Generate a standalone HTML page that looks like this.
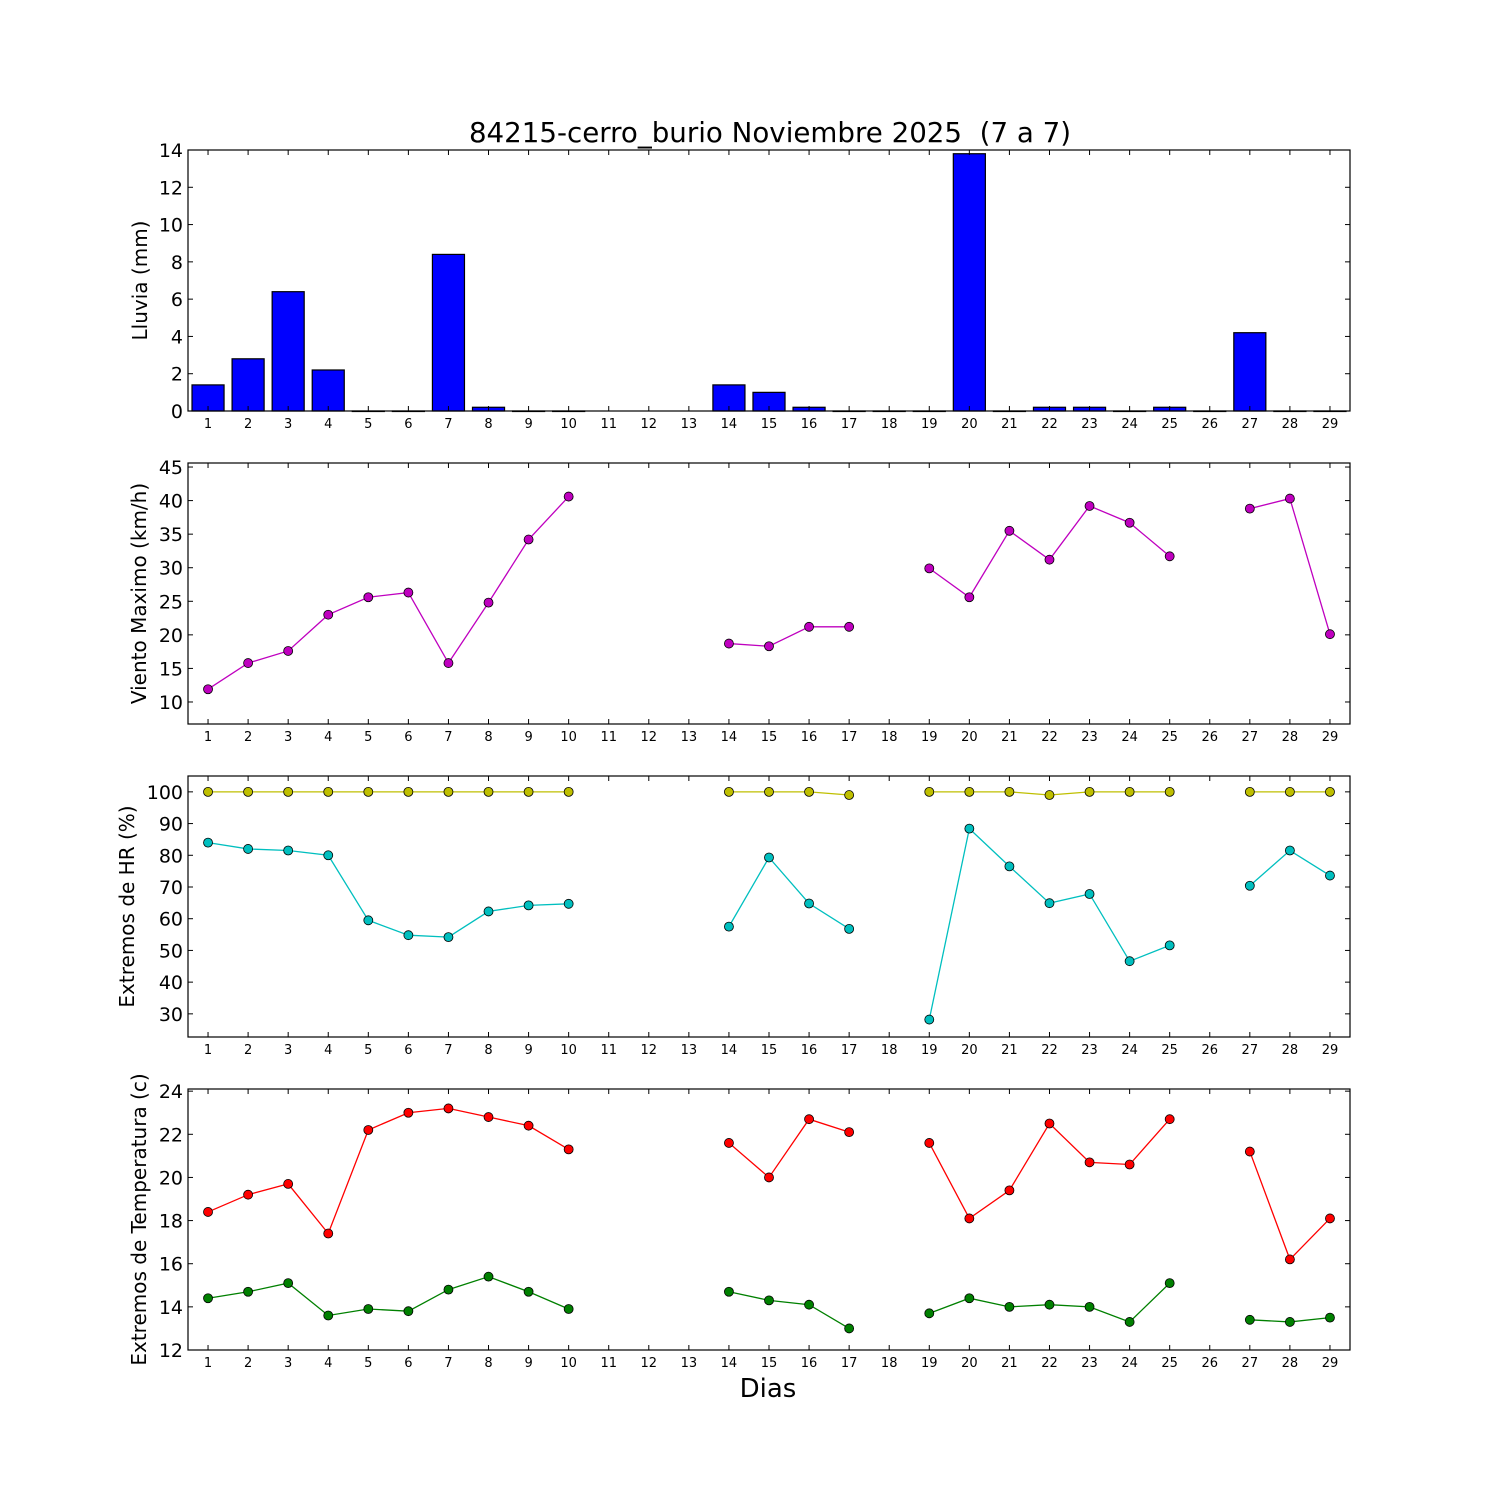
<!DOCTYPE html>
<html><head><meta charset="utf-8"><style>
html,body{margin:0;padding:0;background:#fff}
svg{display:block;font-family:"DejaVu Sans","Liberation Sans",sans-serif}
</style></head><body>
<svg id="chart" width="1500" height="1500" viewBox="0 0 1500 1500" xmlns="http://www.w3.org/2000/svg">
<rect width="1500" height="1500" fill="#fff"/>
<text x="770" y="142" font-size="27.7" text-anchor="middle" style="white-space:pre">84215-cerro_burio Noviembre 2025 &#160;(7 a 7)</text>
<text x="768" y="1397" font-size="26" text-anchor="middle">Dias</text>
</svg>
<script>
const days = [1,2,3,4,5,6,7,8,9,10,11,12,13,14,15,16,17,18,19,20,21,22,23,24,25,26,27,28,29];
const rain = [1.4,2.8,6.4,2.2,0,0,8.4,0.2,0,0,null,null,null,1.4,1.0,0.2,0,0,0,13.8,0,0.2,0.2,0,0.2,0,4.2,0,0];
const wind = [11.9,15.8,17.6,23.0,25.6,26.3,15.8,24.8,34.2,40.6,null,null,null,18.7,18.3,21.2,21.2,null,29.9,25.6,35.5,31.2,39.2,36.7,31.7,null,38.8,40.3,20.1];
const hrMax = [100,100,100,100,100,100,100,100,100,100,null,null,null,100,100,100,99,null,100,100,100,99,100,100,100,null,100,100,100];
const hrMin = [84,82,81.5,80,59.5,54.8,54.2,62.3,64.2,64.7,null,null,null,57.5,79.3,64.8,56.8,null,28.2,88.4,76.5,64.9,67.8,46.6,51.6,null,70.4,81.5,73.6];
const tMax = [18.4,19.2,19.7,17.4,22.2,23.0,23.2,22.8,22.4,21.3,null,null,null,21.6,20.0,22.7,22.1,null,21.6,18.1,19.4,22.5,20.7,20.6,22.7,null,21.2,16.2,18.1];
const tMin = [14.4,14.7,15.1,13.6,13.9,13.8,14.8,15.4,14.7,13.9,null,null,null,14.7,14.3,14.1,13.0,null,13.7,14.4,14.0,14.1,14.0,13.3,15.1,null,13.4,13.3,13.5];
const rainTicks = [0,2,4,6,8,10,12,14];
const windTicks = [10,15,20,25,30,35,40,45];
const hrTicks = [30,40,50,60,70,80,90,100];
const tTicks = [12,14,16,18,20,22,24];

const NS = "http://www.w3.org/2000/svg";
const svg = document.getElementById('chart');
const X0 = 188, X1 = 1350;
function xs(d){ return X0 + (d - 0.5) / 29 * (X1 - X0); }
function mk(tag, attrs, parent){ const e = document.createElementNS(NS, tag); for (const k in attrs) e.setAttribute(k, attrs[k]); (parent||svg).appendChild(e); return e; }

function panel(name, top, bot, ymin, ymax, ticks, label, labelX){
  const g = mk('g', {});
  
  
  const ys = v => bot - (v - ymin) / (ymax - ymin) * (bot - top);
  return {g, ys, top, bot, ticks, label, labelX};
}
function frame(p){
  const g = p.g;
  const ax = mk('g', {}, g);
  
  
  mk('rect', {x:X0, y:p.top, width:X1-X0, height:p.bot-p.top, fill:'none', stroke:'#000', 'stroke-width':1.2}, ax);
  days.forEach(d => {
    const x = xs(d);
    mk('line', {x1:x, x2:x, y1:p.bot, y2:p.bot-5, stroke:'#000'}, ax);
    mk('line', {x1:x, x2:x, y1:p.top, y2:p.top+5, stroke:'#000'}, ax);
    const t = mk('text', {x:x, y:p.bot+17, 'font-size':13, 'text-anchor':'middle'}, ax);
    
    
    t.textContent = d;
  });
  p.ticks.forEach(v => {
    const y = p.ys(v);
    mk('line', {x1:X0, x2:X0+5, y1:y, y2:y, stroke:'#000'}, ax);
    mk('line', {x1:X1, x2:X1-5, y1:y, y2:y, stroke:'#000'}, ax);
    const t = mk('text', {x:X0-5, y:y+7, 'font-size':19, 'text-anchor':'end'}, ax);
    
    
    t.textContent = v;
  });
  const cy = (p.top + p.bot) / 2;
  const lt = mk('text', {x:0, y:0, 'font-size':20, 'text-anchor':'middle', transform:`translate(${p.labelX} ${cy}) rotate(-90)`}, g);
  
  
  lt.textContent = p.label;
}
function series(p, vals, color, name){
  const g = mk('g', {}, p.g);
  
  
  let seg = [];
  const segs = [];
  vals.forEach((v, i) => { if (v === null) { if (seg.length) segs.push(seg); seg = []; } else seg.push([xs(days[i]), p.ys(v)]); });
  if (seg.length) segs.push(seg);
  segs.forEach(s => { mk('polyline', {points:s.map(q=>q.join(',')).join(' '), fill:'none', stroke:color, 'stroke-width':1.3}, g); });
  vals.forEach((v, i) => {
    if (v === null) return;
    const c = mk('circle', {cx:xs(days[i]), cy:p.ys(v), r:4.5, fill:color, stroke:'#000', 'stroke-width':0.8}, g);
    
    
  });
}

const p1 = panel('rain-panel', 150, 411, 0, 14, rainTicks, 'Lluvia (mm)', 147);
const bw = 0.8 * (xs(2) - xs(1));
rain.forEach((v, i) => {
  if (v === null) return;
  const y = p1.ys(v);
  const r = mk('rect', {x:xs(days[i]) - bw/2, y:y, width:bw, height:Math.max(p1.bot - y, 0.5), fill:'#0000ff', stroke:'#000', 'stroke-width':1.2}, p1.g);
  
  
});
frame(p1);

const p2 = panel('wind-panel', 463, 724, 6.72, 45.6, windTicks, 'Viento Maximo (km/h)', 146);
series(p2, wind, '#bf00bf', 'wind-series');
frame(p2);

const p3 = panel('humidity-panel', 776, 1037, 22.7, 105.0, hrTicks, 'Extremos de HR (%)', 134);
series(p3, hrMax, '#bfbf00', 'hr-max-series');
series(p3, hrMin, '#00bfbf', 'hr-min-series');
frame(p3);

const p4 = panel('temperature-panel', 1089, 1350, 12, 24.1, tTicks, 'Extremos de Temperatura (c)', 146);
series(p4, tMax, '#ff0000', 'temp-max-series');
series(p4, tMin, '#008000', 'temp-min-series');
frame(p4);
</script>
</body></html>
